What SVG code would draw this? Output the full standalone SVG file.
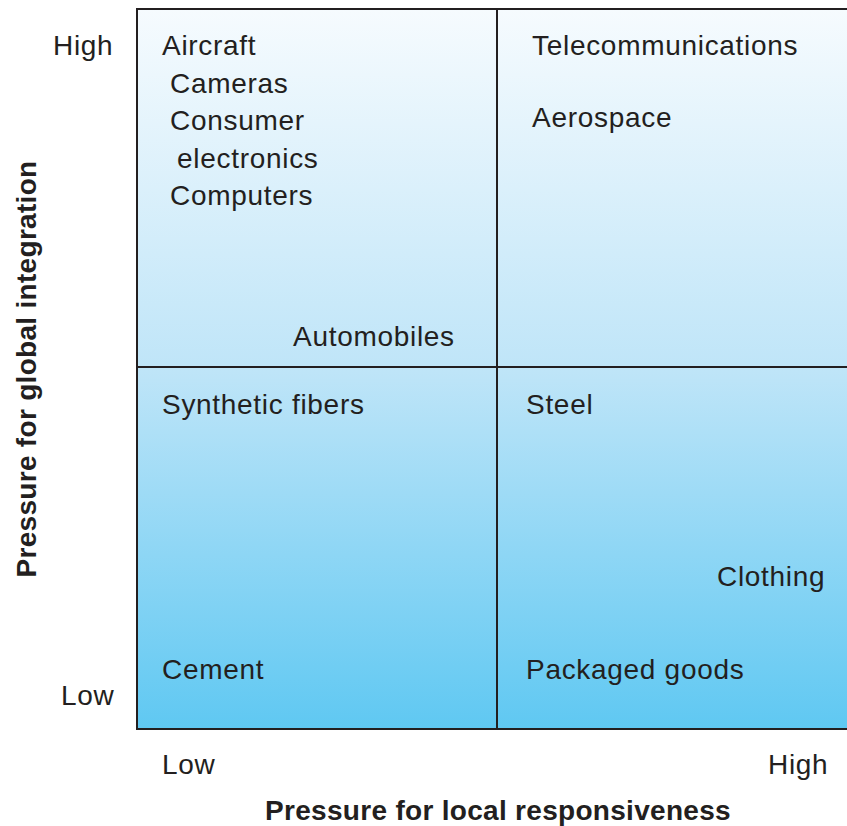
<svg xmlns="http://www.w3.org/2000/svg" width="847" height="826" viewBox="0 0 847 826">
<defs>
<linearGradient id="bg" x1="0" y1="0" x2="0" y2="1">
<stop offset="0" stop-color="#f6fbfe"/>
<stop offset="0.5" stop-color="#bfe5f8"/>
<stop offset="1" stop-color="#5fc8f2"/>
</linearGradient>
<style>
text{font-family:"Liberation Sans",Arial,sans-serif;font-size:28px;letter-spacing:0.7px;fill:#231f20}
.b{font-weight:bold;font-size:28px;letter-spacing:0.3px}
.ln{stroke:#231f20;stroke-width:2;fill:none}
</style>
</defs>
<rect width="847" height="826" fill="#ffffff"/>
<g id="grid">
<rect x="137" y="9" width="720" height="720" fill="url(#bg)"/>
<rect x="137" y="9" width="720" height="720" class="ln"/>
<line x1="497" y1="9" x2="497" y2="729" class="ln"/>
<line x1="137" y1="367" x2="857" y2="367" class="ln"/>
</g>
<g id="axes">
<text x="53" y="55">High</text>
<text x="61" y="705">Low</text>
<text x="162" y="774">Low</text>
<text x="768" y="774">High</text>
<text class="b" x="498" y="820" text-anchor="middle">Pressure for local responsiveness</text>
<text class="b" transform="translate(36,369) rotate(-90)" text-anchor="middle">Pressure for global integration</text>
</g>
<g id="q1">
<text x="162" y="55">Aircraft</text>
<text x="170" y="93">Cameras</text>
<text x="170" y="130">Consumer</text>
<text x="177" y="168">electronics</text>
<text x="170" y="205">Computers</text>
<text x="293" y="346">Automobiles</text>
</g>
<g id="q2">
<text x="532" y="55">Telecommunications</text>
<text x="532" y="127">Aerospace</text>
</g>
<g id="q3">
<text x="162" y="414">Synthetic fibers</text>
<text x="162" y="679">Cement</text>
</g>
<g id="q4">
<text x="526" y="414">Steel</text>
<text x="717" y="586">Clothing</text>
<text x="526" y="679">Packaged goods</text>
</g>
</svg>
